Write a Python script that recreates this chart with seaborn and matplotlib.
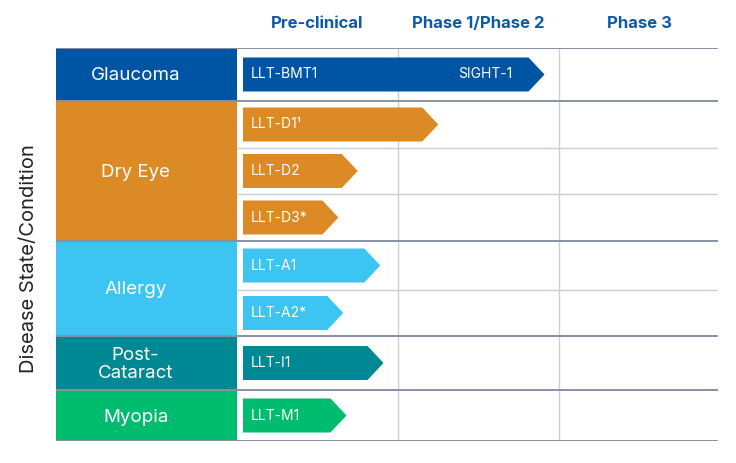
import matplotlib.pyplot as plt
import seaborn as sns
import pandas as pd
from matplotlib.patches import Polygon, Rectangle

# stages (columns) and disease groups
stages = ["Pre-clinical", "Phase 1/Phase 2", "Phase 3"]
groups = ["Glaucoma", "Dry Eye", "Allergy", "Post-\nCataract", "Myopia"]
group_colors = ["#0054A4", "#DC8A25", "#3CC5F3", "#008895", "#00BC6F"]

# one row per programme; progress measured in stage widths from the start of Pre-clinical
programs = ["LLT-BMT1", "LLT-D1\u00b9", "LLT-D2", "LLT-D3*", "LLT-A1", "LLT-A2*", "LLT-I1", "LLT-M1"]
program_group = [0, 1, 1, 1, 2, 2, 3, 4]
progress = [1.91, 1.25, 0.75, 0.63, 0.89, 0.66, 0.91, 0.68]
milestones = ["SIGHT-1", "", "", "", "", "", "", ""]

df = pd.DataFrame({"program": programs, "group": program_group,
                   "progress": progress, "milestone": milestones})

# layout (pixels in y, stage units in x)
row_h = [53, 47, 46, 47, 49, 46, 54, 51]
label_w = 181 / 161
x_max = 481 / 161
gap = 6 / 161
head = 16 / 161
half = 17

sns.set_theme(style="white")
plt.rcParams["font.family"] = ["Inter", "DejaVu Sans"]

fig = plt.figure(figsize=(7.36, 4.63), dpi=100)
ax = fig.add_axes([56 / 736, 1 - 441 / 463, 662 / 736, 393 / 463])
ax.set_xlim(-label_w, x_max)
ax.set_ylim(sum(row_h), 0)
ax.axis("off")

tops = [sum(row_h[:i]) for i in range(len(row_h))]
df["top"] = tops
df["mid"] = [t + h / 2 for t, h in zip(tops, row_h)]

# vertical stage separators
ax.vlines([1, 2], 0, sum(row_h), color="#C9CFDA", lw=1.0, zorder=1)

# group boxes
for g, name in enumerate(groups):
    sub = df[df["group"] == g]
    y0 = sub["top"].min()
    y1 = y0 + sum(row_h[i] for i in sub.index)
    ax.add_patch(Rectangle((-label_w, y0), label_w, y1 - y0,
                           facecolor=group_colors[g], edgecolor="none", zorder=2))
    ax.text(-0.63, (y0 + y1) / 2 + 1.5, name, color="white", fontsize=13.5,
            ha="center", va="center", linespacing=1.0, zorder=5)

# row lines
bounds = [0]
for g in range(len(groups)):
    sub = df[df["group"] == g]
    bounds.append(sub["top"].max() + row_h[sub.index.max()])
thin = [t for t in tops if t not in bounds]
ax.hlines(thin, 0, x_max, color="#C9CFDA", lw=1.0, zorder=1)
ax.hlines(bounds, -label_w, x_max, color="#8791A5", lw=1.4, zorder=4)

# arrows
for _, r in df.iterrows():
    c = group_colors[r["group"]]
    y = r["mid"]
    t = r["progress"]
    pts = [(gap, y - half), (t - head, y - half), (t, y), (t - head, y + half), (gap, y + half)]
    ax.add_patch(Polygon(pts, closed=True, facecolor=c, edgecolor="none", zorder=3))
    ax.text(gap + 0.05, y, r["program"], color="white", fontsize=10,
            ha="left", va="center", zorder=5)
    if r["milestone"]:
        ax.text(t - head - 0.1, y, r["milestone"], color="white", fontsize=10,
                ha="right", va="center", zorder=5)

# stage headers
for i, s in enumerate(stages):
    ax.text(i + 0.5, -25, s, color="#0D5AA7", fontsize=12, fontweight="bold",
            ha="center", va="center", clip_on=False)

fig.text(29 / 736, 1 - 259 / 463, "Disease State/Condition", rotation=90,
         fontsize=14.5, color="#222222", ha="center", va="center")

fig.savefig("out.png", dpi=100)
